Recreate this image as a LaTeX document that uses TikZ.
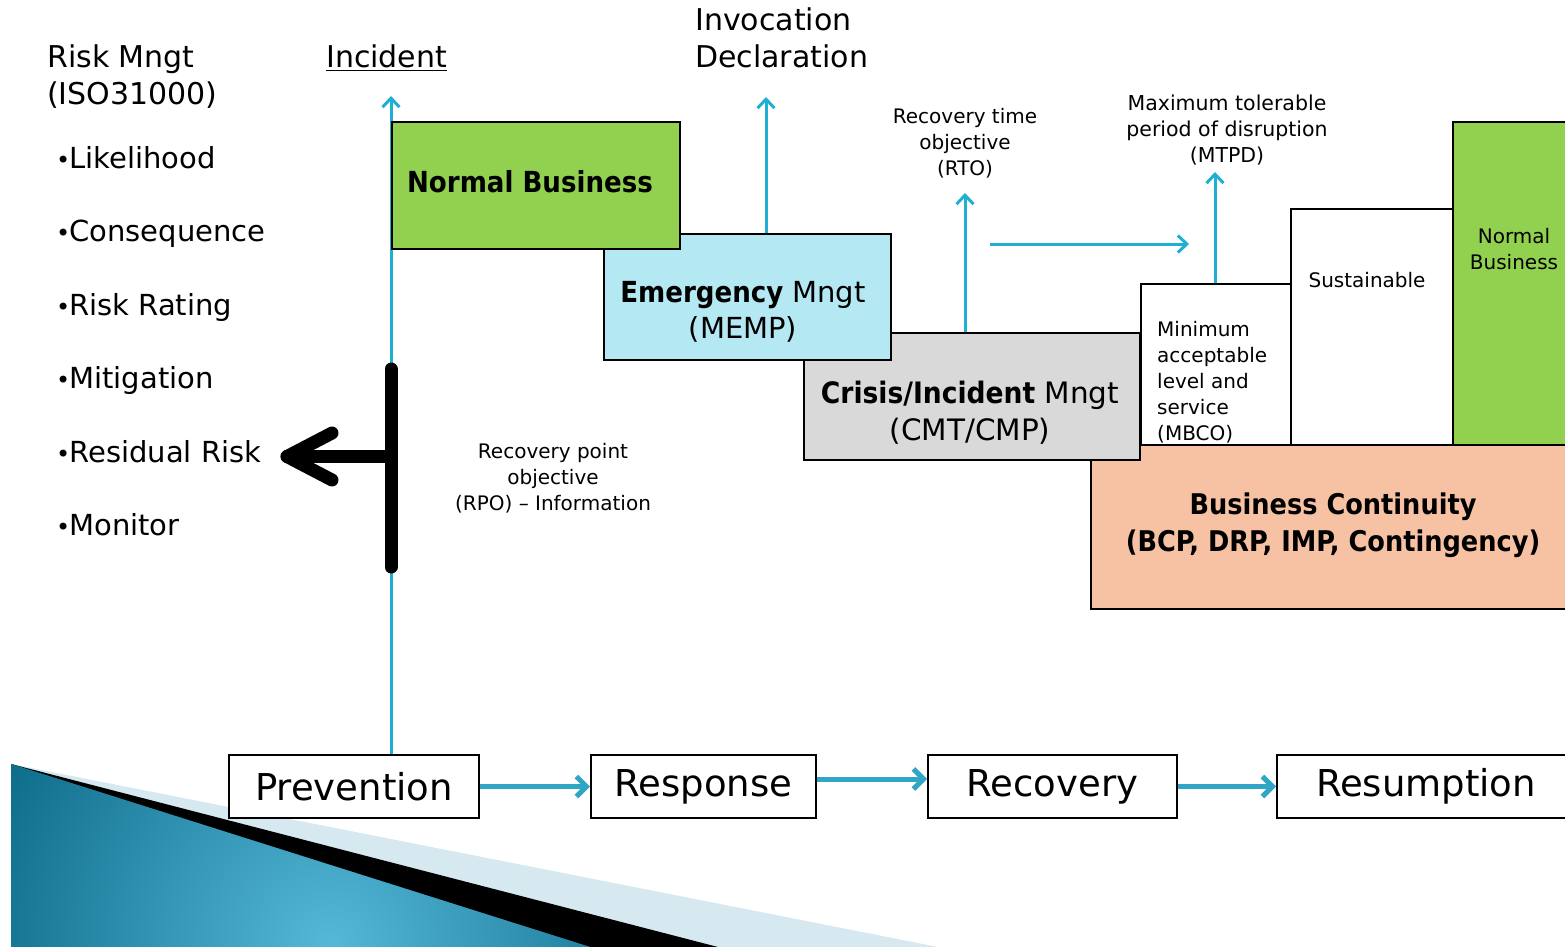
\documentclass[tikz,border=0pt]{standalone}
\usepackage{fontspec}
\setmainfont{DejaVu Sans}
\newfontfamily\condbf{DejaVu Sans Condensed Bold}
\usetikzlibrary{arrows.meta}

\definecolor{nbgreen}{HTML}{92D050}
\definecolor{emblue}{HTML}{B4E8F3}
\definecolor{cmgrey}{HTML}{D9D9D9}
\definecolor{bcpeach}{HTML}{F7C2A3}
\definecolor{cyanline}{HTML}{1EAFD3}
\definecolor{flowblue}{HTML}{30A5C5}
\definecolor{paleblue}{HTML}{D6E9F1}
\definecolor{tealdark}{HTML}{086684}
\definecolor{teallight}{HTML}{55B8D8}

\newcommand\fsz[2]{\fontsize{#1}{#2}\selectfont}
\newcommand\bulletmark{{\fsz{24}{30}•}\kern-1pt}

\tikzset{
  blockbox/.style={draw=black, line width=2pt, inner sep=0pt, anchor=north west},
  stagebox/.style={draw=black, line width=2pt, fill=white, minimum height=63pt,
                   inner sep=0pt, font=\fsz{37}{44}},
  listtxt/.style={inner sep=0pt, anchor=base west, font=\fsz{29}{37}},
  headtxt/.style={inner sep=0pt, anchor=west, align=left, font=\fsz{30}{37}},
  smalltxt/.style={inner sep=0pt, align=center, font=\fsz{20}{26}},
  boxtxt/.style={inner sep=0pt, align=center, font=\fsz{29}{36}},
  cyanarrow/.style={draw=cyanline, line width=3pt, -{Straight Barb[length=9pt,width=17pt]}},
  flowarrow/.style={draw=flowblue, line width=5pt, -{Straight Barb[length=10pt,width=20pt]}},
  rpobar/.style={draw=black, line width=13pt, line cap=round, line join=round}
}

\begin{document}
\begin{tikzpicture}[x=1pt, y=-1pt]
\path[use as bounding box, clip] (0,0) rectangle (1565,947);
\fill[white] (0,0) rectangle (1565,947);

% corner ornament
\fill[paleblue] (11,764) -- (938,947) -- (11,947) -- cycle;
\fill[black] (11,764) -- (718,947) -- (11,947) -- cycle;
\begin{scope}
  \clip (11,764) -- (590,947) -- (11,947) -- cycle;
  \fill[tealdark] (11,764) rectangle (600,947);
  \shade[inner color=teallight, outer color=tealdark] (330,945) circle (400pt);
\end{scope}

% stage boxes along the bottom
\node[stagebox, minimum width=250pt] (prev) at (354,786.5) {Prevention};
\node[stagebox, minimum width=225pt] (resp) at (703.5,786.5) {Response};
\node[stagebox, minimum width=249pt] (reco) at (1052.5,786.5) {Recovery};
\node[stagebox, minimum width=298pt] (resu) at (1426,786.5) {Resumption};

\draw[flowarrow] (prev.east) -- (resp.west);
\draw[flowarrow] ([yshift=7.5pt]resp.east) -- ([yshift=7.5pt]reco.west);
\draw[flowarrow] (reco.east) -- (resu.west);

% incident time line
\coordinate (inctip) at (391,96);
\draw[cyanarrow] (prev.north -| inctip) -- (inctip);

% recovery levels
\node[blockbox, minimum width=162pt, minimum height=236pt] (sust) at (1290,208) {};
\node[blockbox, minimum width=150pt, minimum height=161pt] (mbco) at (1140,283) {};
\node[blockbox, fill=nbgreen, minimum width=140pt, minimum height=323pt] (nbright) at (1452,121) {};
\node[smalltxt, align=left, anchor=west] (mbcotxt) at (1157,382)
  {Minimum\\acceptable\\level and\\service\\(MBCO)};
\node[smalltxt] (susttxt) at (1367,280) {Sustainable};
\node[smalltxt, font=\fsz{20}{25.5}] (nbrighttxt) at (1514,249) {Normal\\Business};

% stacked management blocks
\node[blockbox, fill=bcpeach, minimum width=490pt, minimum height=164pt] (bc) at (1090,444) {};
\node[blockbox, fill=cmgrey, minimum width=336pt, minimum height=127pt] (cm) at (803,332) {};
\node[blockbox, fill=emblue, minimum width=287pt, minimum height=126pt] (em) at (603,233) {};
\node[blockbox, fill=nbgreen, minimum width=288pt, minimum height=127pt] (nb) at (391,121) {};

\node[inner sep=0pt, font=\condbf\fsz{29}{35}] (nbtxt) at (530,182) {Normal Business};
\node[boxtxt] (emtxt) at (743,312) {{\condbf Emergency} Mngt\\(MEMP)};
\node[boxtxt, font=\fsz{29.5}{37}] (cmtxt) at (970,413) {{\condbf Crisis/Incident} Mngt\\(CMT/CMP)};
\node[inner sep=0pt, align=center, font=\condbf\fsz{28.5}{37}] (bctxt) at (1333,525)
  {Business Continuity\\(BCP, DRP, IMP, Contingency)};

% objective arrows
\coordinate (invtip) at (766,97);
\draw[cyanarrow] (em.north -| invtip) -- (invtip);
\coordinate (rtotip) at (965,193);
\draw[cyanarrow] (cm.north -| rtotip) -- (rtotip);
\coordinate (mtpdtip) at (1215,172);
\draw[cyanarrow] (mbco.north -| mtpdtip) -- (mtpdtip);
\coordinate (hstart) at (990,244);
\coordinate (hend) at (1189,244);
\draw[cyanarrow] (hstart) -- (hend);

\node[smalltxt] (rtotxt) at (965,143) {Recovery time\\objective\\(RTO)};
\node[smalltxt, font=\fsz{20.5}{26}] (mtpdtxt) at (1227,130) {Maximum tolerable\\period of disruption\\(MTPD)};
\node[smalltxt] (rpotxt) at (553,478) {Recovery point\\objective\\(RPO) – Information};

% recovery point marker
\coordinate (rpotop) at (391,369);
\coordinate (rpobot) at (391,567);
\coordinate (rpojoin) at (391,456.5);
\coordinate (rpotip) at (287,456.5);
\coordinate (rpowinga) at (332,433);
\coordinate (rpowingb) at (332,480);
\draw[rpobar] (rpotop) -- (rpobot);
\draw[rpobar] (rpojoin) -- (rpotip);
\draw[rpobar] (rpowinga) -- (rpotip) -- (rpowingb);

% headings and risk list
\node[headtxt] (riskhead) at (47,77) {Risk Mngt\\(ISO31000)};
\node[listtxt, font=\fsz{30}{37}] (incident) at (326,68) {\underline{Incident}};
\node[headtxt] (invdecl) at (695,38) {Invocation\\Declaration};

\node[listtxt] (likelihood) at (56,168) {\bulletmark Likelihood};
\node[listtxt] (consequence) at (56,241.5) {\bulletmark Consequence};
\node[listtxt] (rating) at (56,315) {\bulletmark Risk Rating};
\node[listtxt] (mitigation) at (56,388.5) {\bulletmark Mitigation};
\node[listtxt] (residual) at (56,462) {\bulletmark Residual Risk};
\node[listtxt] (monitor) at (56,535.5) {\bulletmark Monitor};
\end{tikzpicture}
\end{document}
